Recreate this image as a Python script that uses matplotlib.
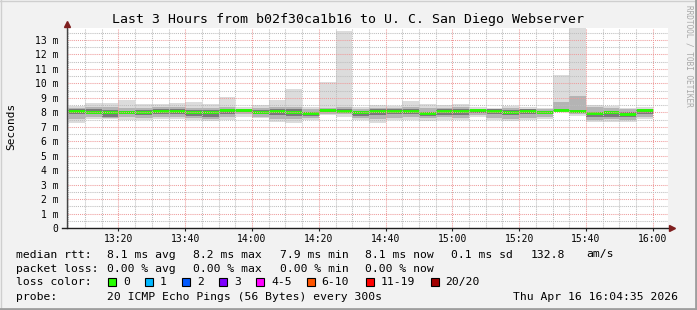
import numpy as np
import matplotlib.pyplot as plt
from matplotlib.patches import Rectangle
from matplotlib.ticker import MultipleLocator, FuncFormatter

# --- data: 5 minute bins, 13:05 .. 16:00, rtt in ms ---
bin_start = np.arange(13 * 60 + 5, 16 * 60, 5)   # minutes after midnight
bin_width = 5

rtt_median = [8.11, 8.02, 8.02, 8.02, 8.02, 8.11, 8.11, 8.02, 8.02, 8.18,
              8.18, 8.02, 8.11, 8.02, 7.92, 8.18, 8.11, 8.02, 8.11, 8.11,
              8.11, 7.93, 8.11, 8.11, 8.18, 8.11, 8.02, 8.11, 8.02, 8.18,
              8.11, 7.93, 8.02, 7.86, 8.18]
rtt_max = [8.44, 8.64, 8.64, 8.87, 8.55, 8.56, 8.64, 8.74, 8.55, 9.03,
           8.34, 8.48, 8.85, 9.60, 8.34, 10.08, 13.62, 8.34, 8.48, 8.44,
           8.78, 8.56, 8.50, 8.56, 8.34, 8.32, 8.44, 8.34, 8.28, 10.58,
           13.90, 8.50, 8.44, 8.28, 8.34]
rtt_min = [7.28, 7.52, 7.52, 7.47, 7.47, 7.52, 7.54, 7.47, 7.40, 7.47,
           7.70, 7.58, 7.30, 7.28, 7.45, 7.78, 7.70, 7.47, 7.28, 7.47,
           7.47, 7.40, 7.47, 7.47, 7.70, 7.47, 7.40, 7.47, 7.56, 8.00,
           7.72, 7.30, 7.30, 7.35, 7.54]
# middle smoke band
rtt_q_hi = [8.30, 8.40, 8.35, 8.30, 8.30, 8.35, 8.35, 8.30, 8.30, 8.40,
            8.25, 8.30, 8.35, 8.35, 8.20, 8.30, 8.35, 8.25, 8.30, 8.30,
            8.40, 8.30, 8.30, 8.35, 8.25, 8.25, 8.30, 8.25, 8.20, 8.70,
            9.15, 8.35, 8.30, 8.20, 8.25]
rtt_q_lo = [7.55, 7.70, 7.60, 7.65, 7.60, 7.65, 7.70, 7.60, 7.55, 7.65,
            7.85, 7.70, 7.55, 7.55, 7.60, 7.90, 7.85, 7.60, 7.55, 7.60,
            7.65, 7.60, 7.65, 7.60, 7.80, 7.60, 7.55, 7.60, 7.70, 8.05,
            7.90, 7.50, 7.55, 7.50, 7.65]
# dark core around the median
rtt_core_hi = [8.20, 8.20, 8.15, 8.10, 8.15, 8.20, 8.20, 8.15, 8.15, 8.25,
               8.22, 8.15, 8.20, 8.20, 8.00, 8.22, 8.20, 8.10, 8.20, 8.20,
               8.22, 8.05, 8.20, 8.20, 8.22, 8.20, 8.15, 8.20, 8.10, 8.22,
               8.15, 8.00, 8.10, 8.05, 8.25]
rtt_core_lo = [7.85, 7.85, 7.70, 7.85, 7.80, 7.85, 7.90, 7.75, 7.70, 7.90,
               8.00, 7.85, 7.80, 7.75, 7.75, 8.05, 7.95, 7.75, 7.80, 7.85,
               7.85, 7.75, 7.80, 7.80, 7.95, 7.85, 7.80, 7.85, 7.85, 8.10,
               7.95, 7.70, 7.70, 7.70, 7.85]

loss_labels = ['0', '1', '2', '3', '4-5', '6-10', '11-19', '20/20']
loss_colors = ['#26ff00', '#00b8ff', '#0059ff', '#7e00ff', '#ff00ff',
               '#ff5500', '#ff0000', '#a10000']

W, H = 697, 310
MONO = 'DejaVu Sans Mono'
plt.rcParams['font.family'] = MONO


def fx(x):
    return x / W


def fy(y):
    return 1 - y / H


fig = plt.figure(figsize=(W / 100, H / 100), dpi=100, facecolor='#f2f2f2')

# frame shading
fig.add_artist(plt.Line2D([0, 1], [fy(0.5), fy(0.5)], color='#cfcfcf', lw=1))
fig.add_artist(plt.Line2D([fx(0.5), fx(0.5)], [0, 1], color='#cfcfcf', lw=1))
fig.add_artist(plt.Line2D([0, 1], [fy(309), fy(309)], color='#9e9e9e', lw=2))
fig.add_artist(plt.Line2D([fx(696), fx(696)], [0, 1], color='#9e9e9e', lw=2))

ax = fig.add_axes([fx(67), fy(228), fx(668) - fx(67), fy(27.7) - fy(228)])
ax.set_facecolor('white')

t0 = 13 * 60 + 4 + 35 / 60
ax.set_xlim(t0, t0 + 180)
ax.set_ylim(0, 13.85)

# smoke
ax.bar(bin_start, np.subtract(rtt_max, rtt_min), bottom=rtt_min, width=bin_width,
       align='edge', color='#dcdcdc', linewidth=0, zorder=1)
ax.bar(bin_start, np.subtract(rtt_q_hi, rtt_q_lo), bottom=rtt_q_lo, width=bin_width,
       align='edge', color='#b4b4b4', linewidth=0, zorder=1.1)
ax.bar(bin_start, np.subtract(rtt_core_hi, rtt_core_lo), bottom=rtt_core_lo,
       width=bin_width, align='edge', color='#7a7a7a', linewidth=0, zorder=1.2)
ax.hlines(rtt_median, bin_start, bin_start + bin_width, color=loss_colors[0],
          linewidth=2.0, zorder=2)

# grid
ax.xaxis.set_major_locator(MultipleLocator(20))
ax.xaxis.set_minor_locator(MultipleLocator(5))
ax.yaxis.set_major_locator(MultipleLocator(1))
ax.yaxis.set_minor_locator(MultipleLocator(0.5))
ax.set_axisbelow(False)
ax.grid(which='minor', color='#bdbdbd', linestyle=(0, (1, 1)), linewidth=0.75)
ax.grid(which='major', color='#ee9a9a', linestyle=(0, (1, 1)), linewidth=0.75)

ax.xaxis.set_major_formatter(FuncFormatter(lambda v, p: '%d:%02d' % (int(v) // 60, int(v) % 60)))
ax.yaxis.set_major_formatter(FuncFormatter(lambda v, p: '0' if v == 0 else '%d m' % round(v)))
ax.tick_params(axis='x', which='major', length=2.5, width=0.8, pad=2,
               labelsize=7, direction='out', color='#1f1f1f')
ax.tick_params(axis='x', which='minor', length=0)
ax.tick_params(axis='y', which='both', length=0, pad=6, labelsize=7)
for s in ax.spines.values():
    s.set_visible(False)

# axis lines and arrows
ax.plot([0, 0], [0, 1.02], transform=ax.transAxes, color='#444444', lw=1,
        clip_on=False, zorder=4)
ax.plot([-0.008, 1.0], [0, 0], transform=ax.transAxes, color='#1f1f1f', lw=1,
        clip_on=False, zorder=4)
ax.plot([0], [1.02], transform=ax.transAxes, marker='^', ms=4.5, color='#7f1f1f',
        clip_on=False, zorder=5)
ax.plot([1.006], [0], transform=ax.transAxes, marker='>', ms=4.5, color='#7f1f1f',
        clip_on=False, zorder=5)

# titles
fig.text(0.5, fy(19), 'Last 3 Hours from b02f30ca1b16 to U. C. San Diego Webserver',
         ha='center', va='center', fontsize=9.5)
fig.text(fx(11), fy(126), 'Seconds', rotation=90, ha='center', va='center', fontsize=8)
fig.text(fx(688.5), fy(5), 'RRDTOOL / TOBI OETIKER', rotation=270, ha='center',
         va='top', fontsize=5.6, color='#a8a8a8')

# legend block
fs = 8.2


def put(x, y, s):
    fig.text(fx(x), fy(y), s, ha='left', va='center', fontsize=fs)


row1 = [(16, 'median rtt:'), (107, '8.1 ms avg'), (193, '8.2 ms max'),
        (280, '7.9 ms min'), (365, '8.1 ms now'), (451, '0.1 ms sd'),
        (530.5, '132.8'), (586, 'am/s')]
row2 = [(16, 'packet loss:'), (107, '0.00 % avg'), (193, '0.00 % max'),
        (280, '0.00 % min'), (365, '0.00 % now')]
for x, s in row1:
    put(x, 254.5, s)
for x, s in row2:
    put(x, 268.5, s)

put(16, 282, 'loss color:')
box_x = [108, 145, 182, 219, 256, 306.5, 365.5, 430.5]
for bx, lab, col in zip(box_x, loss_labels, loss_colors):
    fig.add_artist(Rectangle((fx(bx), fy(286)), 8 / W, 8 / H, transform=fig.transFigure,
                             facecolor=col, edgecolor='black', linewidth=0.8))
    put(bx + 15, 282, lab)

put(16, 296.5, 'probe:')
put(107, 296.5, '20 ICMP Echo Pings (56 Bytes) every 300s')
put(513, 296.5, 'Thu Apr 16 16:04:35 2026')

fig.savefig('out.png', dpi=100, facecolor=fig.get_facecolor())
